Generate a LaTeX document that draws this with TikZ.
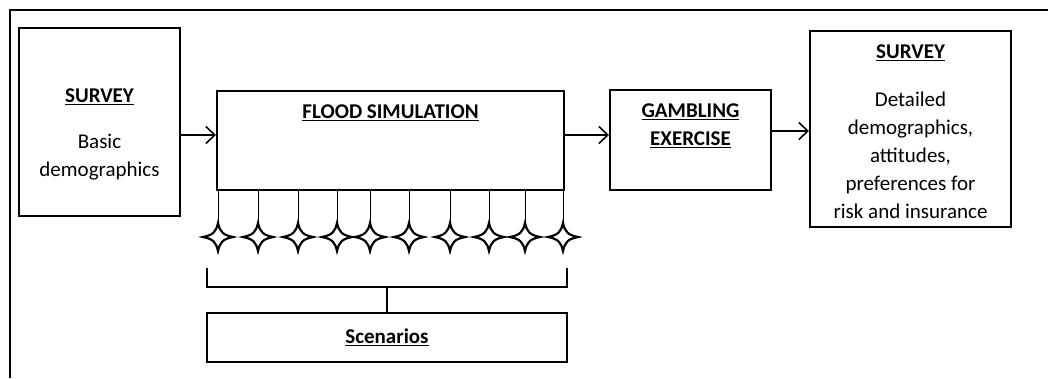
\documentclass[tikz,border=0pt]{standalone}
\usepackage{fontspec}
\setmainfont{Carlito}
\usetikzlibrary{arrows.meta}
\begin{document}
\begin{tikzpicture}[x=1pt,y=-1pt,
  box/.style={draw,line width=2pt,inner sep=0pt},
  txt/.style={align=center,inner sep=0pt,font=\fontsize{21}{28}\selectfont},
  ttl/.style={align=center,inner sep=0pt,font=\fontsize{21}{28}\selectfont\bfseries},
  flow/.style={line width=1.6pt,-{Straight Barb[length=9pt,width=17pt,line width=1.6pt]}},
  tick/.style={line width=0.8pt},
  brace/.style={line width=2pt},
  sparkle/.style={line width=2.2pt,fill=white,line join=miter,miter limit=20}
]
\useasboundingbox (0,0) rectangle (1048,378);

% outer frame
\draw[line width=2pt] (10,378) -- (10,10) -- (1048,10);

% boxes
\node[box,minimum width=161pt,minimum height=188pt] (s1) at (99.5,122) {};
\node[box,minimum width=347pt,minimum height=99pt] (flood) at (390.5,140.5) {};
\node[box,minimum width=161pt,minimum height=100pt] (gamble) at (690.5,140) {};
\node[box,minimum width=201pt,minimum height=196pt] (s2) at (910.5,129) {};
\node[box,minimum width=360pt,minimum height=49pt] (scen) at (387,337.5) {};

% texts
\node[ttl] (s1t) at (99.5,97) {\underline{SURVEY}};
\node[txt] (s1b) at (99.5,157) {Basic\\demographics};
\node[ttl] (ft) at (390.5,113) {\underline{FLOOD SIMULATION}};
\node[ttl] (gt) at (690.5,126) {\underline{GAMBLING}\\\underline{EXERCISE}};
\node[ttl] (s2t) at (910.5,53) {\underline{SURVEY}};
\node[txt] (s2b) at (910.5,155) {Detailed\\demographics,\\attitudes,\\preferences for\\risk and insurance};
\node[ttl] (st) at (387,337) {\underline{Scenarios}};

% flow arrows
\coordinate (a1) at (0,135);
\coordinate (a2) at (0,131);
\draw[flow] (s1.east |- a1) -- (flood.west |- a1);
\draw[flow] (flood.east |- a1) -- (gamble.west |- a1);
\draw[flow] (gamble.east |- a2) -- (s2.west |- a2);

% scenario stars hanging from the simulation box
\foreach \i/\x in {1/218,2/258,3/298,4/337,5/370,6/409,7/450,8/489,9/525,10/563}{
  \coordinate (k\i) at (\x,237);
  \coordinate (kt\i) at (\x,222);
  \draw[tick] (flood.south -| kt\i) -- (kt\i);
  \draw[sparkle] (\x,223)
    .. controls (\x+2,232) and (\x+5,235) .. (\x+15,237)
    .. controls (\x+5,239) and (\x+2,242) .. (\x,251)
    .. controls (\x-2,242) and (\x-5,239) .. (\x-15,237)
    .. controls (\x-5,235) and (\x-2,232) .. cycle;
}

% bracket gathering the stars into the scenarios box
\coordinate (bl) at (207,268);
\coordinate (br) at (567,268);
\coordinate (bm) at (387,287);
\draw[brace] (bl) -- (bl |- bm) -- (br |- bm) -- (br);
\draw[brace] (bm) -- (scen.north);
\end{tikzpicture}
\end{document}
